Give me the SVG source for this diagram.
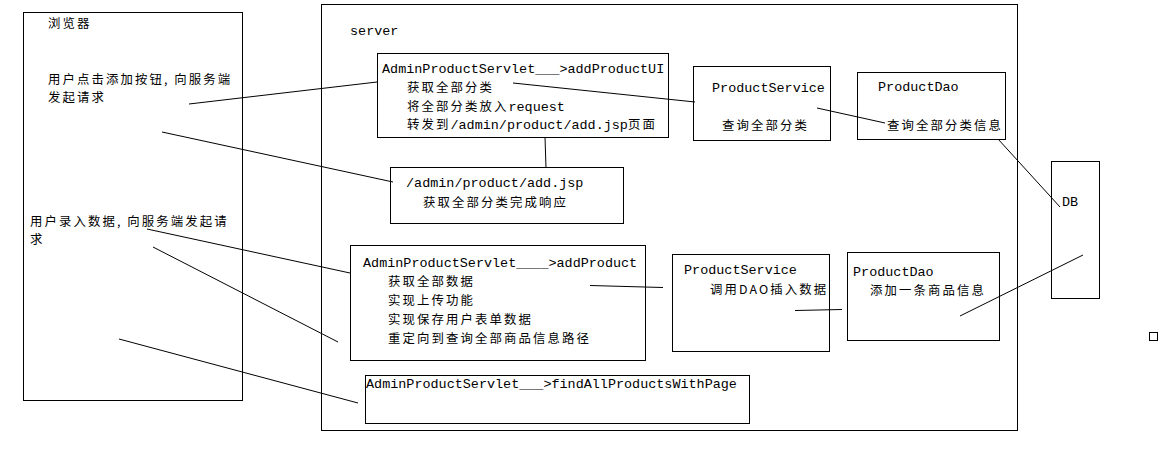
<svg xmlns="http://www.w3.org/2000/svg" width="1174" height="459" viewBox="0 0 1174 459">
<style>
rect.b{fill:none;stroke:#000;stroke-width:1}
.c line{stroke:#000;stroke-width:1}
text{font-family:"Liberation Mono","Noto Sans CJK SC",monospace;font-size:13.45px;fill:#000}
.zh{font-family:"Noto Sans CJK SC",sans-serif;font-size:12.4px;letter-spacing:2.1px}
</style>
<rect width="1174" height="459" fill="#fff"/>
<g id="browser">
<rect class="b" x="23.5" y="12.5" width="219" height="388"/>
<text x="48" y="28"><tspan class="zh">浏览器</tspan></text>
<text x="48" y="84"><tspan class="zh">用户点击添加按钮, 向服务端</tspan></text>
<text x="48" y="102"><tspan class="zh">发起请求</tspan></text>
<text x="30" y="226"><tspan class="zh">用户录入数据, 向服务端发起请</tspan></text>
<text x="30" y="244"><tspan class="zh">求</tspan></text>
</g>
<g id="server">
<rect class="b" x="321.5" y="4.5" width="696" height="426"/>
<text x="350" y="35">server</text>
</g>
<g id="addProductUI">
<rect class="b" x="377.5" y="53.5" width="291" height="84"/>
<text x="382" y="73">AdminProductServlet___&gt;addProductUI</text>
<text x="407" y="92"><tspan class="zh">获取全部分类</tspan></text>
<text x="407" y="111"><tspan class="zh">将全部分类放入</tspan>request</text>
<text x="407" y="129"><tspan class="zh">转发到</tspan>/admin/product/add.jsp<tspan class="zh">页面</tspan></text>
</g>
<g id="addJsp">
<rect class="b" x="390.5" y="167.5" width="233" height="56"/>
<text x="406" y="187">/admin/product/add.jsp</text>
<text x="423" y="207"><tspan class="zh">获取全部分类完成响应</tspan></text>
</g>
<g id="productService1">
<rect class="b" x="693.5" y="66.5" width="137" height="74"/>
<text x="712" y="92">ProductService</text>
<text x="722" y="130"><tspan class="zh">查询全部分类</tspan></text>
</g>
<g id="productDao1">
<rect class="b" x="857.5" y="72.5" width="148" height="67"/>
<text x="878" y="91">ProductDao</text>
<text x="887" y="130"><tspan class="zh">查询全部分类信息</tspan></text>
</g>
<g id="db">
<rect class="b" x="1051.5" y="161.5" width="48" height="137"/>
<text x="1062" y="206">DB</text>
</g>
<g id="addProduct">
<rect class="b" x="350.5" y="245.5" width="295" height="115"/>
<text x="363" y="267">AdminProductServlet____&gt;addProduct</text>
<text x="388" y="286"><tspan class="zh">获取全部数据</tspan></text>
<text x="388" y="305"><tspan class="zh">实现上传功能</tspan></text>
<text x="388" y="324"><tspan class="zh">实现保存用户表单数据</tspan></text>
<text x="388" y="343"><tspan class="zh">重定向到查询全部商品信息路径</tspan></text>
</g>
<g id="productService2">
<rect class="b" x="672.5" y="254.5" width="157" height="97"/>
<text x="684" y="274">ProductService</text>
<text x="710" y="294"><tspan class="zh">调用DAO插入数据</tspan></text>
</g>
<g id="productDao2">
<rect class="b" x="847.5" y="252.5" width="152" height="88"/>
<text x="853" y="276">ProductDao</text>
<text x="870" y="295"><tspan class="zh">添加一条商品信息</tspan></text>
</g>
<g id="findAll">
<rect class="b" x="365.5" y="375.5" width="384" height="48"/>
<text x="366" y="388">AdminProductServlet___&gt;findAllProductsWithPage</text>
</g>
<g id="square">
<rect class="b" x="1149.5" y="332.5" width="8" height="8"/>
</g>
<g class="c" id="connectors">
<line x1="189" y1="104" x2="377" y2="82"/>
<line x1="162" y1="132" x2="393" y2="182"/>
<line x1="513" y1="83" x2="695" y2="102"/>
<line x1="545" y1="137" x2="546" y2="168"/>
<line x1="817" y1="108" x2="885" y2="123"/>
<line x1="998" y1="139" x2="1060" y2="207"/>
<line x1="147" y1="229" x2="350" y2="273"/>
<line x1="153" y1="247" x2="338" y2="342"/>
<line x1="119" y1="339" x2="358" y2="403"/>
<line x1="590" y1="285.5" x2="663" y2="287.5"/>
<line x1="795" y1="310.5" x2="842" y2="309.5"/>
<line x1="960" y1="316" x2="1083" y2="255"/>
</g>
</svg>
